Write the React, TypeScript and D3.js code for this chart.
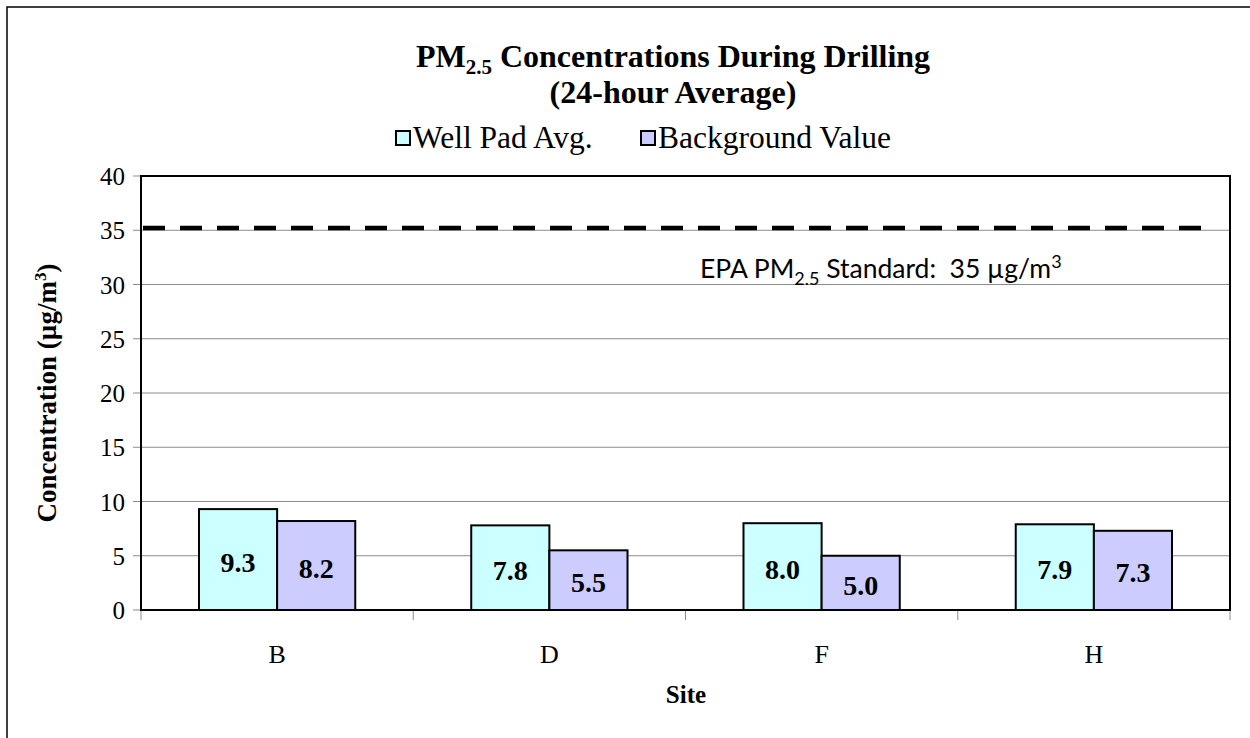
import React from "react";
import * as d3 from "d3";

const sites = ["B", "D", "F", "H"];
const wellPadAvg = [9.3, 7.8, 8.0, 7.9];
const backgroundValue = [8.2, 5.5, 5.0, 7.3];
const seriesNames = ["Well Pad Avg.", "Background Value"];
const seriesColors = ["#CCFFFF", "#CCCCFF"];
const yTicks = [0, 5, 10, 15, 20, 25, 30, 35, 40];
const standardValue = 35.2;

export default function App() {
  const W = 1250, H = 738;
  const plot = { left: 141, top: 176, right: 1230, bottom: 610 };
  const y = d3.scaleLinear().domain([0, 40]).range([plot.bottom, plot.top]);
  const x = d3.scaleBand<string>().domain(sites).range([plot.left, plot.right]).paddingInner(0).paddingOuter(0);
  const bw = x.bandwidth();
  const barW = bw * 0.287;
  const series = [wellPadAvg, backgroundValue];
  const serif = "'Liberation Serif', 'Times New Roman', serif";

  return (
    <svg width={W} height={H} style={{ position: "fixed", left: 0, top: 0, background: "#fff" }}>
      <defs>
        <filter id="blur" x="-10%" y="-200%" width="120%" height="500%">
          <feGaussianBlur stdDeviation="2.2" />
        </filter>
      </defs>
      <rect x={0} y={0} width={W} height={H} fill="#fff" />
      <rect x={7} y={7} width={1300} height={800} fill="none" stroke="#000" strokeWidth={1.5} />

      {/* title */}
      <text x={673} y={67} textAnchor="middle" fontFamily={serif} fontWeight="bold" fontSize={32}>
        PM<tspan fontSize={21} dy={7}>2.5</tspan><tspan dy={-7}> Concentrations During Drilling</tspan>
      </text>
      <text x={673} y={103} textAnchor="middle" fontFamily={serif} fontWeight="bold" fontSize={32}>
        (24-hour Average)
      </text>

      {/* legend */}
      {seriesNames.map((n, i) => {
        const lx = i === 0 ? 396 : 641;
        return (
          <g key={n}>
            <rect x={lx} y={131} width={14} height={14} fill={seriesColors[i]} stroke="#000" strokeWidth={2} />
            <text x={lx + 17} y={148} fontFamily={serif} fontSize={31.5}>{n}</text>
          </g>
        );
      })}

      {/* gridlines */}
      {yTicks.filter((t) => t > 0 && t < 40).map((t) => (
        <line key={t} x1={plot.left} x2={plot.right} y1={y(t)} y2={y(t)} stroke="#8c8c8c" strokeWidth={1} />
      ))}

      {/* y ticks and labels */}
      {yTicks.map((t) => (
        <g key={t}>
          <line x1={plot.left - 8} x2={plot.left} y1={y(t)} y2={y(t)} stroke="#8c8c8c" strokeWidth={1} />
          <text x={125} y={y(t) + 9} textAnchor="end" fontFamily={serif} fontSize={25}>{t}</text>
        </g>
      ))}

      {/* standard line with shadow */}
      <line x1={plot.left + 2} x2={1207} y1={y(standardValue) + 4} y2={y(standardValue) + 4}
        stroke="#777" strokeOpacity={0.6} strokeWidth={5} strokeDasharray="22 15" filter="url(#blur)" />
      <line x1={plot.left + 2} x2={1207} y1={y(standardValue)} y2={y(standardValue)}
        stroke="#000" strokeWidth={4.5} strokeDasharray="22 15" />
      <text x={700} y={278} fontFamily="Lato, 'Open Sans', sans-serif" fontSize={26.5}>
        EPA PM<tspan fontSize={18} dy={7}>2.5</tspan><tspan dy={-7}>{" Standard:\u00a0 35 µg/m"}</tspan><tspan fontSize={18} dy={-10}>3</tspan>
      </text>

      {/* bars */}
      {sites.map((s, ci) => {
        const cx = (x(s) as number) + bw / 2;
        return (
          <g key={s}>
            {series.map((vals, si) => {
              const v = vals[ci];
              const bx = cx - barW + si * barW;
              const top = y(v);
              return (
                <g key={si}>
                  <rect x={bx} y={top} width={barW} height={plot.bottom - top} fill={seriesColors[si]} stroke="#000" strokeWidth={2} />
                  <text x={bx + barW / 2} y={(top + plot.bottom) / 2 + 12} textAnchor="middle" fontFamily={serif} fontWeight="bold" fontSize={28}>
                    {v.toFixed(1)}
                  </text>
                </g>
              );
            })}
            <text x={cx} y={663} textAnchor="middle" fontFamily={serif} fontSize={26}>{s}</text>
          </g>
        );
      })}

      {/* x ticks */}
      {d3.range(sites.length + 1).map((i) => {
        const tx = plot.left + i * bw;
        return <line key={i} x1={tx} x2={tx} y1={plot.bottom} y2={plot.bottom + 10} stroke="#8c8c8c" strokeWidth={1} />;
      })}

      {/* plot border */}
      <rect x={plot.left} y={plot.top} width={plot.right - plot.left} height={plot.bottom - plot.top} fill="none" stroke="#000" strokeWidth={2} />

      {/* axis titles */}
      <text x={686} y={703} textAnchor="middle" fontFamily={serif} fontWeight="bold" fontSize={25}>Site</text>
      <text transform={`translate(56, ${(plot.top + plot.bottom) / 2}) rotate(-90)`} textAnchor="middle" fontFamily={serif} fontWeight="bold" fontSize={27}>
        Concentration (µg/m<tspan fontSize={17} dy={-10}>3</tspan><tspan dy={10}>)</tspan>
      </text>
    </svg>
  );
}
